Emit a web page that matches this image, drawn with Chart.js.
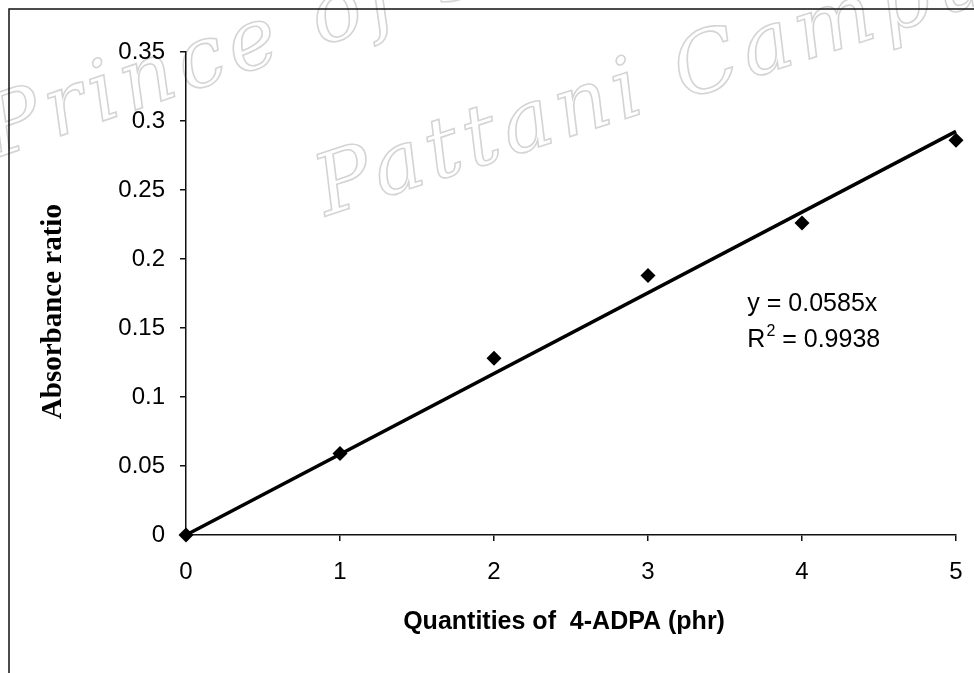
<!DOCTYPE html>
<html>
<head>
<meta charset="utf-8">
<title>Absorbance ratio vs 4-ADPA</title>
<script src="https://cdn.jsdelivr.net/npm/chart.js"></script>
<style>
  html, body { margin: 0; padding: 0; background: #fff; }
  canvas { display: block; }
</style>
</head>
<body>
<canvas id="absChart" width="974" height="673"></canvas>
<script>
// measured points
const quantities = [0, 1, 2, 3, 4, 5];
const absorbance = [0, 0.059, 0.128, 0.188, 0.226, 0.286];

// fitted line y = 0.0585x, end points
const trendX = [0, 5];
const trendY = [0, 0.2925];

const yTicks = [0, 0.05, 0.1, 0.15, 0.2, 0.25, 0.3, 0.35];
const xTicks = [0, 1, 2, 3, 4, 5];

const equationText = 'y = 0.0585x';
const r2Value = ' = 0.9938';
const watermarkLines = ['Prince of Songkla University', 'Pattani Campus'];

const tickFont = { family: '"Liberation Sans", Arial, sans-serif', size: 24 };

// page frame, watermark and the fit equation
const decorations = {
  id: 'decorations',
  beforeDraw(chart) {
    const ctx = chart.ctx;
    ctx.save();
    ctx.fillStyle = '#fff';
    ctx.fillRect(0, 0, chart.width, chart.height);

    // faint outlined watermark
    ctx.font = 'italic 84px "DejaVu Serif", serif';
    ctx.letterSpacing = '6px';
    ctx.strokeStyle = '#d4d4d4';
    ctx.lineWidth = 1.6;
    ctx.save();
    ctx.translate(-4, 158);
    ctx.rotate(-19 * Math.PI / 180);
    ctx.strokeText(watermarkLines[0], 0, 0);
    ctx.restore();
    ctx.save();
    ctx.translate(326, 216);
    ctx.rotate(-18 * Math.PI / 180);
    ctx.strokeText(watermarkLines[1], 0, 0);
    ctx.restore();
    ctx.letterSpacing = '0px';

    // frame (top and left edges only, the rest is cut off)
    ctx.strokeStyle = '#111';
    ctx.lineWidth = 1.5;
    ctx.beginPath();
    ctx.moveTo(9, chart.height);
    ctx.lineTo(9, 9);
    ctx.lineTo(chart.width, 9);
    ctx.stroke();
    ctx.restore();
  },
  afterDatasetsDraw(chart) {
    const ctx = chart.ctx;
    const xs = chart.scales.x, ys = chart.scales.y;
    const left = xs.getPixelForValue(3.645);
    const y1 = ys.getPixelForValue(0.167);
    const y2 = ys.getPixelForValue(0.141);
    ctx.save();
    ctx.fillStyle = '#000';
    ctx.textBaseline = 'middle';
    ctx.textAlign = 'left';
    ctx.font = '25px "Liberation Sans", Arial, sans-serif';
    ctx.fillText(equationText, left, y1);
    ctx.fillText('R', left, y2);
    const rw = ctx.measureText('R').width;
    ctx.font = '16px "Liberation Sans", Arial, sans-serif';
    ctx.fillText('2', left + rw + 1, y2 - 9);
    const sw = ctx.measureText('2').width;
    ctx.font = '25px "Liberation Sans", Arial, sans-serif';
    ctx.fillText(r2Value, left + rw + sw + 1, y2);
    ctx.restore();
  }
};

new Chart(document.getElementById('absChart'), {
  type: 'scatter',
  data: {
    datasets: [
      {
        label: 'Linear fit',
        type: 'line',
        data: trendX.map((x, i) => ({ x: x, y: trendY[i] })),
        borderColor: '#000',
        borderWidth: 3.5,
        pointRadius: 0,
        fill: false,
        clip: false,
        order: 2
      },
      {
        label: 'Absorbance ratio',
        data: quantities.map((x, i) => ({ x: x, y: absorbance[i] })),
        pointStyle: 'rectRot',
        pointRadius: 7.5,
        backgroundColor: '#000',
        borderColor: '#000',
        borderWidth: 0,
        clip: false,
        order: 1
      }
    ]
  },
  options: {
    responsive: false,
    animation: false,
    layout: { padding: { top: 52, right: 18, bottom: 0, left: 0 } },
    plugins: {
      legend: { display: false },
      tooltip: { enabled: false }
    },
    scales: {
      x: {
        type: 'linear',
        min: 0,
        max: 5,
        afterBuildTicks: s => { s.ticks = xTicks.map(v => ({ value: v })); },
        afterFit: s => { s.height = 138; s.paddingLeft = 0; s.paddingRight = 0; },
        border: { display: true, color: '#111', width: 1.5 },
        grid: { drawOnChartArea: false, drawTicks: true, tickLength: 6, color: '#111', lineWidth: 1.5 },
        ticks: { color: '#000', font: tickFont, padding: 17, maxRotation: 0 },
        title: {
          display: true,
          text: 'Quantities of  4-ADPA (phr)  ',
          color: '#000',
          font: { family: '"Liberation Sans", Arial, sans-serif', size: 25, weight: 'bold' },
          padding: { top: 0, bottom: 36 }
        }
      },
      y: {
        type: 'linear',
        min: 0,
        max: 0.35,
        afterBuildTicks: s => { s.ticks = yTicks.map(v => ({ value: v })); },
        afterFit: s => { s.width = 186; s.paddingTop = 0; s.paddingBottom = 0; },
        border: { display: true, color: '#111', width: 1.5 },
        grid: { drawOnChartArea: false, drawTicks: true, tickLength: 6, color: '#111', lineWidth: 1.5 },
        ticks: {
          color: '#000',
          font: tickFont,
          padding: 15,
          callback: v => String(Number(v.toFixed(2)))
        },
        title: {
          display: true,
          text: 'Absorbance ratio     ',
          color: '#000',
          font: { family: '"Liberation Serif", "Times New Roman", serif', size: 29, weight: 'bold' },
          padding: { top: 36, bottom: 0 }
        }
      }
    }
  },
  plugins: [decorations]
});
</script>
</body>
</html>
